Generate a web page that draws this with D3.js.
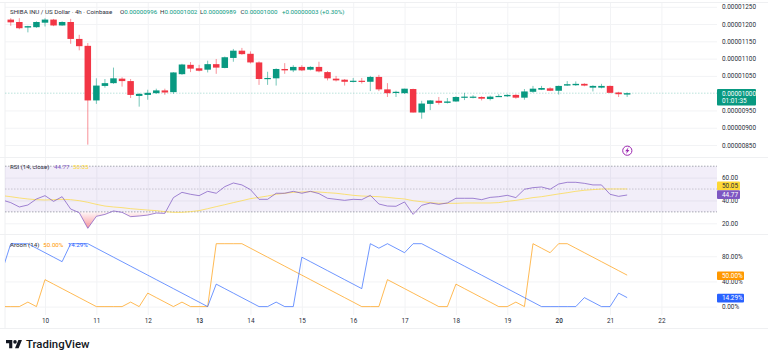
<!DOCTYPE html>
<html>
<head>
<meta charset="utf-8">
<script src="https://cdn.jsdelivr.net/npm/d3@7"></script>
<style>
  html, body { margin: 0; padding: 0; background: #fff; }
  svg { display: block; font-family: Roboto, sans-serif; }
  .axis text { fill: #2a2e39; font-size: 6.4px; font-family: Roboto, sans-serif; }
  .axis line { stroke: #f2f3f5; }
  .axis .domain { display: none; }
</style>
</head>
<body>
<svg id="chart" width="768" height="360"></svg>
<script>
// Prices are in units of 0.00000001, one candle every 4 hours
const candleOpen = [1213,1206,1190,1191,1204,1213,1196,1206,1157,1137,
  979,1021,1029,1042,1035,992,995,1000,1008,1003,
  1055,1082,1072,1068,1084,1073,1102,1123,1114,1089,
  1041,1043,1070,1066,1076,1068,1076,1061,1042,1039,
  1033,1036,1033,1047,1011,1002,1000,1012,944,969,
  978,972,976,988,988,989,983,990,991,995,
  987,1004,1010,1014,1007,1022,1023,1027,1016,1016,
  1021,1002,996];
const candleClose = [1205,1188,1194,1206,1213,1196,1206,1157,1136,979,
  1022,1029,1043,1035,995,998,1001,1008,1002,1060,
  1083,1071,1065,1084,1074,1104,1123,1113,1089,1041,
  1044,1070,1066,1076,1066,1076,1063,1043,1037,1033,
  1036,1033,1047,1011,1000,1004,1013,944,970,979,
  972,976,989,990,990,984,990,992,995,987,
  1005,1013,1015,1007,1021,1026,1027,1022,1021,1021,
  1001,997,1000];
const candleHigh = [1217,1217,1195,1208,1217,1215,1208,1215,1169,1145,
  1043,1041,1074,1046,1041,1000,1010,1013,1013,1061,
  1085,1090,1082,1094,1099,1106,1128,1131,1121,1092,
  1062,1072,1087,1081,1081,1078,1091,1064,1050,1041,
  1044,1044,1050,1053,1029,1007,1013,1013,978,980,
  989,986,991,1001,994,991,993,997,997,997,
  1012,1021,1021,1017,1022,1035,1034,1029,1023,1027,
  1022,1004,1002];
const candleLow = [1195,1185,1176,1189,1193,1194,1195,1143,1124,851,
  969,1016,1027,1019,986,961,981,998,995,998,
  1053,1061,1063,1060,1056,1072,1091,1111,1086,1024,
  1024,1022,1056,1061,1064,1066,1060,1037,1034,1022,
  1031,1028,1006,1006,989,989,998,944,926,951,
  967,970,975,980,985,979,979,990,989,984,
  981,1001,1009,1006,996,1021,1021,1020,1005,1014,
  1000,989,989];

// Indicator arrays start one candle before the first visible candle
const rsiValues = [40.4,38.1,34.3,36.0,41.3,44.2,39.2,43.3,32.5,29.3,15.6,
  26.1,27.8,30.8,29.6,25.8,26.4,27.2,29.0,28.7,42.5,
  47.1,45.4,44.2,48.0,46.3,52.1,55.3,53.6,49.5,41.0,
  41.0,46.3,46.3,48.0,46.3,48.0,46.0,41.9,41.0,40.1,
  41.0,40.7,44.5,36.9,35.1,34.9,38.7,27.8,35.7,37.8,
  36.6,37.8,41.9,41.9,41.9,40.7,42.7,43.3,44.5,42.5,
  49.8,51.2,51.8,49.8,54.4,55.9,55.9,55.0,53.6,53.6,
  45.4,43.6,44.77];
const rsiMa = [44.2,43.3,42.2,41.3,40.7,40.4,40.7,41.0,40.7,39.8,38.4,
  36.6,35.1,34.3,33.7,32.8,32.2,31.6,31.1,30.2,29.6,
  29.6,30.2,31.1,32.8,34.6,36.3,38.1,39.8,41.6,42.7,
  43.9,45.4,46.3,47.1,47.4,47.7,47.4,46.8,46.3,45.4,
  44.5,43.9,43.6,43.3,42.7,41.9,41.3,39.8,38.9,38.1,
  37.5,37.5,37.5,37.8,37.8,37.8,37.8,38.1,39.2,40.1,
  41.3,42.5,43.3,44.5,45.7,46.8,48.0,48.9,49.5,50.0,
  50.05,50.05,50.05];
const aroonUp = [0,0,0,7.14,0,42.86,35.71,28.57,21.43,14.29,7.14,
  0,0,0,0,7.14,0,21.43,14.29,7.14,0,
  7.14,0,0,0,100,100,100,100,92.86,85.71,
  78.57,71.43,64.29,57.14,50,42.86,35.71,28.57,21.43,14.29,
  7.14,0,0,0,42.86,35.71,28.57,21.43,14.29,7.14,
  0,0,35.71,28.57,21.43,14.29,7.14,0,0,7.14,
  0,100,92.86,85.71,100,100,92.86,85.71,78.57,71.43,
  64.29,57.14,50];
const aroonDown = [57.14,100,100,100,92.86,85.71,78.57,71.43,100,100,100,
  92.86,85.71,78.57,71.43,64.29,57.14,50,42.86,35.71,28.57,
  21.43,14.29,7.14,0,35.71,28.57,21.43,14.29,7.14,0,
  0,7.14,0,0,78.57,71.43,64.29,57.14,50,42.86,
  35.71,28.57,100,92.86,100,92.86,85.71,100,100,92.86,
  85.71,78.57,71.43,64.29,57.14,50,42.86,35.71,28.57,21.43,
  14.29,7.14,0,0,0,0,0,14.29,7.14,0,
  0,21.43,14.29];

const priceTicks = [850,900,950,1050,1100,1150,1200,1250];
const rsiTicks = [20,40,60];
const aroonTicks = [0,40,80];
const dayTicks = [10,11,12,13,14,15,16,17,18,19,20,21,22];
const boldDays = [13,20];

const red = '#f23645', green = '#089981', purple = '#7e57c2', yellow = '#fdd835',
  orange = '#ff9800', blue = '#2962ff', ink = '#2a2e39';
const left = 5, right = 717;

const svg = d3.select('#chart');
const xScale = d3.scaleLinear().domain([10, 22]).range([45, 661.4]);
const yPrice = d3.scaleLinear().domain([850, 1250]).range([145, 6.8]);
const yRsi = d3.scaleLinear().domain([20, 70]).range([223.3, 166.2]);
const yAroon = d3.scaleLinear().domain([0, 100]).range([306.6, 243.7]);

const candleDay = i => 10 + (i - 4) / 6;
const indicatorDay = i => 10 + (i - 5) / 6;

svg.append('defs').append('clipPath').attr('id', 'plot')
  .append('rect').attr('x', left).attr('y', 0).attr('width', right - left).attr('height', 330);

// Vertical grid with day labels
svg.append('g').attr('class', 'axis x-axis')
  .attr('transform', 'translate(0,315)')
  .call(d3.axisBottom(xScale).tickValues(dayTicks).tickFormat(d3.format('d')).tickSize(-312).tickPadding(3))
  .selectAll('text').style('font-weight', d => boldDays.includes(d) ? 500 : 400);

// Horizontal grids with axes on the right
function rightAxis(scale, ticks, format) {
  svg.append('g').attr('class', 'axis')
    .attr('transform', `translate(${right},0)`)
    .call(d3.axisRight(scale).tickValues(ticks).tickFormat(format).tickSizeInner(-(right - left)).tickSizeOuter(0).tickPadding(5));
}
rightAxis(yPrice, priceTicks, d => (d * 1e-8).toFixed(8));
rightAxis(yRsi, rsiTicks, d => d.toFixed(2));
rightAxis(yAroon, aroonTicks, d => d.toFixed(2) + '%');

// Pane borders
svg.selectAll('.border').data([2.5, 157.5, 234.5, 328.5]).enter().append('line')
  .attr('x1', 0).attr('x2', 768).attr('y1', d => d).attr('y2', d => d)
  .attr('stroke', '#eff0f2');
svg.append('line').attr('x1', left).attr('x2', left).attr('y1', 2.5).attr('y2', 328.5).attr('stroke', '#eff0f2');

const plot = svg.append('g').attr('clip-path', 'url(#plot)');

// Last price line
plot.append('line')
  .attr('x1', left).attr('x2', right)
  .attr('y1', yPrice(1000)).attr('y2', yPrice(1000))
  .attr('stroke', green).attr('stroke-opacity', 0.35).attr('stroke-dasharray', '1.5,1.5').attr('stroke-width', 0.8);

// Candles
const bodyWidth = (xScale(1) - xScale(0)) / 6 * 0.76;
const candles = plot.append('g').selectAll('g').data(candleOpen).enter().append('g');
const candleColor = (d, i) => candleClose[i] >= d ? green : red;
candles.append('line')
  .attr('x1', (d, i) => xScale(candleDay(i))).attr('x2', (d, i) => xScale(candleDay(i)))
  .attr('y1', (d, i) => yPrice(candleHigh[i])).attr('y2', (d, i) => yPrice(candleLow[i]))
  .attr('stroke', candleColor).attr('stroke-opacity', 0.55).attr('stroke-width', 1);
candles.append('rect')
  .attr('x', (d, i) => xScale(candleDay(i)) - bodyWidth / 2)
  .attr('width', bodyWidth)
  .attr('y', (d, i) => yPrice(Math.max(d, candleClose[i])))
  .attr('height', (d, i) => Math.max(1.2, Math.abs(yPrice(d) - yPrice(candleClose[i]))))
  .attr('fill', candleColor);

// RSI band
plot.append('rect')
  .attr('x', left).attr('width', right - left)
  .attr('y', yRsi(70)).attr('height', yRsi(30) - yRsi(70))
  .attr('fill', purple).attr('fill-opacity', 0.1);
[70, 50, 30].forEach(v => {
  plot.append('line')
    .attr('x1', left).attr('x2', right).attr('y1', yRsi(v)).attr('y2', yRsi(v))
    .attr('stroke', '#787b86').attr('stroke-opacity', v === 50 ? 0.45 : 0.8)
    .attr('stroke-dasharray', '1.5,1.5').attr('stroke-width', 0.8);
});

// Oversold fill below the 30 level
const grad = svg.select('defs').append('linearGradient')
  .attr('id', 'oversold').attr('gradientUnits', 'userSpaceOnUse')
  .attr('x1', 0).attr('x2', 0).attr('y1', yRsi(30)).attr('y2', yRsi(15));
grad.append('stop').attr('offset', 0).attr('stop-color', red).attr('stop-opacity', 0.03);
grad.append('stop').attr('offset', 1).attr('stop-color', red).attr('stop-opacity', 0.55);
svg.select('defs').append('clipPath').attr('id', 'below30')
  .append('rect').attr('x', left).attr('y', yRsi(30)).attr('width', right - left).attr('height', 30);
plot.append('g').attr('clip-path', 'url(#below30)').append('path')
  .datum(rsiValues)
  .attr('fill', 'url(#oversold)')
  .attr('d', d3.area().x((d, i) => xScale(indicatorDay(i))).y0(yRsi(30)).y1(d => yRsi(d)));

function seriesLine(values, scale, color, opacity) {
  plot.append('path').datum(values)
    .attr('fill', 'none').attr('stroke', color).attr('stroke-width', 0.9).attr('stroke-opacity', opacity)
    .attr('stroke-linejoin', 'round')
    .attr('d', d3.line().x((d, i) => xScale(indicatorDay(i))).y(d => scale(d)));
}
seriesLine(rsiMa, yRsi, yellow, 0.75);
seriesLine(rsiValues, yRsi, purple, 0.8);
seriesLine(aroonUp, yAroon, orange, 0.75);
seriesLine(aroonDown, yAroon, blue, 0.75);

// Legends, each part placed at its own x
function legend(y, parts) {
  const t = svg.append('text').attr('y', y).attr('font-size', 6.2);
  parts.forEach(p => t.append('tspan').attr('x', p[2]).attr('fill', p[1]).text(p[0]));
}
function ohlc(y, parts) {
  const t = svg.append('text').attr('y', y).attr('font-size', 6.2);
  parts.forEach(p => {
    t.append('tspan').attr('x', p[2]).attr('fill', ink).text(p[0]);
    t.append('tspan').attr('fill', green).text(p[1]);
  });
}
legend(13.5, [['SHIBA INU / US Dollar · 4h · Coinbase', ink, 10],
  ['+0.00000003 (+0.30%)', green, 282]]);
ohlc(13.5, [['O', '0.00000996', 120], ['H', '0.00001002', 160], ['L', '0.00000989', 200],
  ['C', '0.00001000', 240.5]]);
legend(169, [['RSI (14, close)', ink, 10], ['44.77', purple, 54], ['50.05', yellow, 73]]);
legend(246.6, [['Aroon (14)', ink, 10], ['50.00%', orange, 43.3], ['14.29%', blue, 67.7]]);

// Axis value tags
function tag(y, h, w, color, text, sub) {
  svg.append('rect').attr('x', right).attr('y', y).attr('width', w).attr('height', h).attr('rx', 1).attr('fill', color);
  svg.append('text').attr('x', right + 5).attr('y', y + (sub ? 7 : 6.5)).attr('font-size', 6.4)
    .attr('fill', color === yellow ? ink : '#fff').text(text);
  if (sub) {
    svg.append('text').attr('x', right + 5).attr('y', y + 14).attr('font-size', 6.4)
      .attr('fill', '#fff').text(sub);
  }
}
tag(89, 16.5, 39, green, '0.00001000', '01:01:35');
tag(181.6, 8.6, 23, yellow, '50.05');
tag(190.3, 8.6, 23, purple, '44.77');
tag(271.4, 8.6, 27, orange, '50.00%');
tag(293.8, 8.6, 27, blue, '14.29%');

// Lightning marker
const bolt = svg.append('g').attr('transform', 'translate(627.3,150.7)');
bolt.append('circle').attr('r', 4.6).attr('fill', '#fff').attr('stroke', '#9c27b0').attr('stroke-width', 1);
bolt.append('path').attr('d', 'M1.3,-3.4L-2.2,0.5H-0.3L-1.3,3.4L2.2,-0.7H0.3Z').attr('fill', '#9c27b0');

// TradingView logo
const logo = svg.append('g').attr('transform', 'translate(6,338.3) scale(0.45)').attr('fill', '#131722');
logo.append('path').attr('d', 'M14 22H7V11H0V4h14v18zM28 22h-8l7.5-18h8L28 22z');
logo.append('circle').attr('cx', 20).attr('cy', 8).attr('r', 4);
svg.append('text').attr('x', 26).attr('y', 348).attr('font-size', 11.4).attr('font-weight', 500)
  .attr('fill', '#131722').text('TradingView');
</script>
</body>
</html>
